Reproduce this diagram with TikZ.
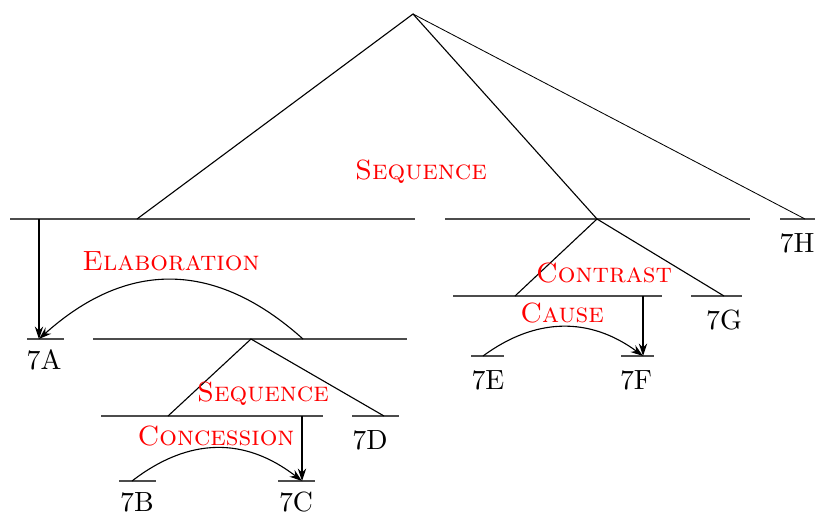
\documentclass[tikz,border=0pt]{standalone}
\usetikzlibrary{arrows.meta,positioning}
\tikzset{
  spanbar/.style={
    line width=0.4pt,
    black!70,
  },
  branch/.style={
    line width=0.4pt,
    black,
  },
  relname/.style={
    font=\scshape,
    text=red,
    inner sep=0pt,
  },
  leafname/.style={
    inner sep=0pt,
  },
  nucarrow/.style={
    -{Stealth[length=4.5pt,width=3pt]},
    black,
  },
}

\begin{document}
\begin{tikzpicture}[x=0.36pt,y=-0.36pt]
\useasboundingbox (0,0) rectangle (815,514);

% root and top spans
\coordinate (root) at (413,14);
\coordinate (spA1) at (10,219);
\coordinate (spA2) at (415,219);
\coordinate (spE1) at (445,219);
\coordinate (spE2) at (750,219);
\coordinate (barH1) at (780,219);
\coordinate (barH2) at (815,219);
\coordinate (topA) at (137,219);
\coordinate (topE) at (597,219);
\coordinate (topH) at (805,219);

% 7A--7D
\coordinate (arrA) at (39,219);
\coordinate (barA1) at (27,339);
\coordinate (barA2) at (64,339);
\coordinate (nucA) at (39,339);
\coordinate (spB1) at (93,339);
\coordinate (spB2) at (407,339);
\coordinate (satB) at (303,339);
\coordinate (topB) at (251,339);
\coordinate (spC1) at (101,416);
\coordinate (spC2) at (323,416);
\coordinate (topC) at (168,416);
\coordinate (arrC) at (302,416);
\coordinate (barD1) at (352,416);
\coordinate (barD2) at (399,416);
\coordinate (topD) at (384,416);
\coordinate (barB1) at (119,481);
\coordinate (barB2) at (156,481);
\coordinate (satC) at (132,481);
\coordinate (barC1) at (278,481);
\coordinate (barC2) at (315,481);
\coordinate (nucC) at (302,481);

% 7E--7G
\coordinate (spF1) at (453,296);
\coordinate (spF2) at (662,296);
\coordinate (topF) at (515,296);
\coordinate (arrF) at (643,296);
\coordinate (barG1) at (691,296);
\coordinate (barG2) at (742,296);
\coordinate (topG) at (724,296);
\coordinate (barE1) at (471,356);
\coordinate (barE2) at (504,356);
\coordinate (satE) at (483,356);
\coordinate (barF1) at (621,356);
\coordinate (barF2) at (654,356);
\coordinate (nucF) at (643,356);

% bars
\begin{scope}[spanbar]
\draw (spA1) -- (spA2);
\draw (spE1) -- (spE2);
\draw (barH1) -- (barH2);
\draw (barA1) -- (barA2);
\draw (spB1) -- (spB2);
\draw (spC1) -- (spC2);
\draw (barD1) -- (barD2);
\draw (barB1) -- (barB2);
\draw (barC1) -- (barC2);
\draw (spF1) -- (spF2);
\draw (barG1) -- (barG2);
\draw (barE1) -- (barE2);
\draw (barF1) -- (barF2);
\end{scope}

% tree branches
\begin{scope}[branch]
\draw (topA) -- (root) -- (topE);
\draw[line width=0.3pt] (root) -- (topH);
\draw (topC) -- (topB) -- (topD);
\draw (topF) -- (topE) -- (topG);
\end{scope}

% relations
\begin{scope}[nucarrow]
\draw (arrA) -- (nucA);
\draw (satB) .. controls (215,260) and (127,260) .. (nucA);
\draw (arrC) -- (nucC);
\draw (satC) .. controls (189,437) and (245,437) .. (nucC);
\draw (arrF) -- (nucF);
\draw (satE) .. controls (536,317) and (590,317) .. (nucF);
\end{scope}

% labels
\node[relname] (seq1) at (421,172) {Sequence};
\node[relname] (elab) at (171,261) {Elaboration};
\node[relname] (seq2) at (263,394) {Sequence};
\node[relname] (conc) at (216,436) {Concession};
\node[relname] (contr) at (604,273) {Contrast};
\node[relname] (cause) at (562,313) {Cause};

\node[leafname] (l7A) at (44,360) {7A};
\node[leafname] (l7B) at (137,502) {7B};
\node[leafname] (l7C) at (296,502) {7C};
\node[leafname] (l7D) at (370,440) {7D};
\node[leafname] (l7E) at (488,380) {7E};
\node[leafname] (l7F) at (636,380) {7F};
\node[leafname] (l7G) at (724,320) {7G};
\node[leafname] (l7H) at (797,243) {7H};
\end{tikzpicture}
\end{document}
